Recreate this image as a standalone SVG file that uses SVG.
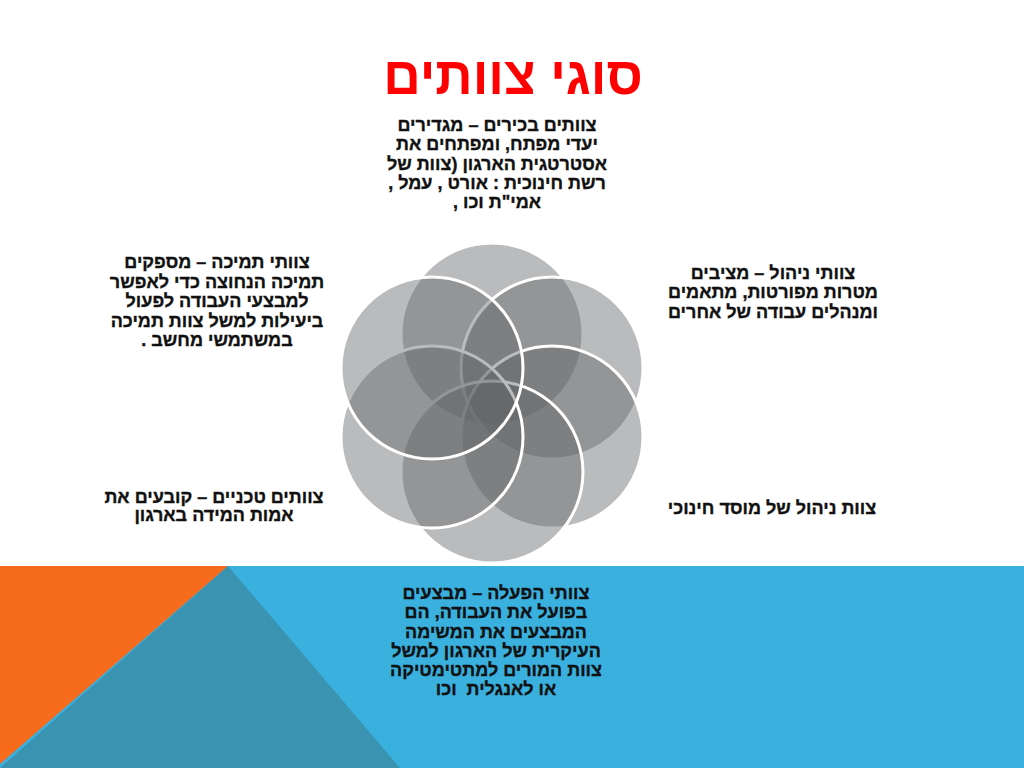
<svg xmlns="http://www.w3.org/2000/svg" width="1024" height="768" viewBox="0 0 1024 768">
<style>
.t{font-family:"Liberation Sans","Noto Sans",Arial,sans-serif;font-weight:bold;font-size:18px;fill:#111;stroke:#111;stroke-width:0.35;text-anchor:middle;direction:rtl}
.c{fill:#636466;fill-opacity:0.44;stroke:#fff;stroke-width:3}
.title{font-family:"Liberation Sans","Noto Sans",Arial,sans-serif;font-weight:bold;font-size:52px;fill:#ff0000;text-anchor:middle;direction:rtl}
</style>
<rect width="1024" height="768" fill="#fff"/>
<g id="background">
<rect x="0" y="566" width="1024" height="202" fill="#3ab0df"/>
<polygon points="0,566 228,566 0,764" fill="#f76b1c"/>
<polygon points="228,566 0,768 400,768" fill="#3a93b1"/>
</g>
<g id="title"><text class="title" x="513" y="94">סוגי צוותים</text></g>
<g id="circles">
<circle class="c" cx="492" cy="334" r="91"/>
<circle class="c" cx="552" cy="368" r="91"/>
<circle class="c" cx="552" cy="437" r="91"/>
<circle class="c" cx="492" cy="472" r="91"/>
<circle class="c" cx="432" cy="437" r="91"/>
<circle class="c" cx="432" cy="368" r="91"/>
</g>
<g id="node-top">
<text class="t" x="497" y="131">צוותים בכירים – מגדירים</text>
<text class="t" x="497" y="150">יעדי מפתח, ומפתחים את</text>
<text class="t" x="497" y="170">אסטרטגית הארגון (צוות של</text>
<text class="t" x="497" y="189">רשת חינוכית : אורט , עמל ,</text>
<text class="t" x="497" y="208">אמי"ת וכו ,</text>
</g>
<g id="node-upper-right">
<text class="t" x="773" y="279">צוותי ניהול – מציבים</text>
<text class="t" x="773" y="298">מטרות מפורטות, מתאמים</text>
<text class="t" x="773" y="318">ומנהלים עבודה של אחרים</text>
</g>
<g id="node-lower-right">
<text class="t" x="772" y="514">צוות ניהול של מוסד חינוכי</text>
</g>
<g id="node-bottom">
<text class="t" x="496" y="599">צוותי הפעלה – מבצעים</text>
<text class="t" x="496" y="618">בפועל את העבודה, הם</text>
<text class="t" x="496" y="638">המבצעים את המשימה</text>
<text class="t" x="496" y="657">העיקרית של הארגון למשל</text>
<text class="t" x="496" y="676">צוות המורים למתטימטיקה</text>
<text class="t" x="496" y="695" xml:space="preserve">או לאנגלית  וכו</text>
</g>
<g id="node-lower-left">
<text class="t" x="214" y="503">צוותים טכניים – קובעים את</text>
<text class="t" x="214" y="521">אמות המידה בארגון</text>
</g>
<g id="node-upper-left">
<text class="t" x="217" y="268">צוותי תמיכה – מספקים</text>
<text class="t" x="217" y="288">תמיכה הנחוצה כדי לאפשר</text>
<text class="t" x="217" y="307">למבצעי העבודה לפעול</text>
<text class="t" x="217" y="327">ביעילות למשל צוות תמיכה</text>
<text class="t" x="217" y="346">במשתמשי מחשב .</text>
</g>
</svg>
